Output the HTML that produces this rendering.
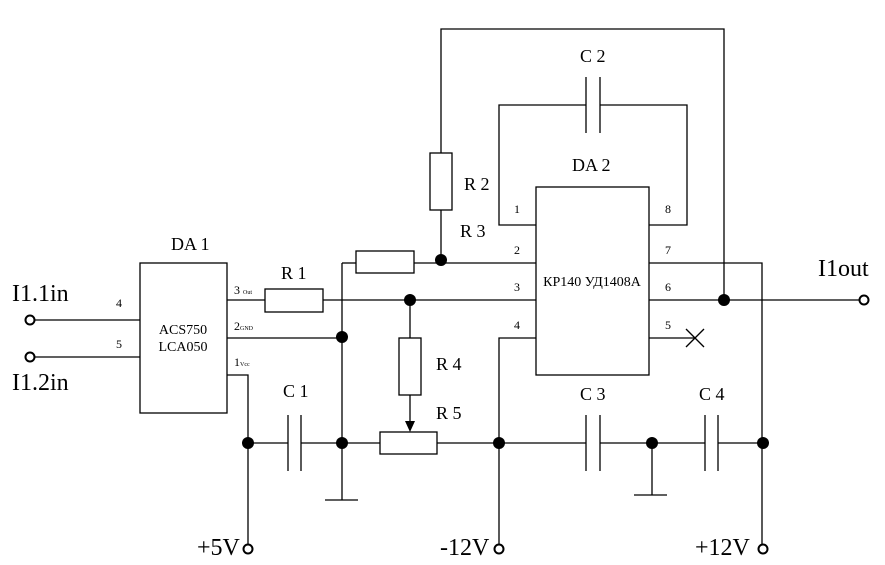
<!DOCTYPE html>
<html><head><meta charset="utf-8"><style>
html,body{margin:0;padding:0;background:#fff;}
svg{display:block;}
text{font-family:"Liberation Serif","Noto Serif CJK SC",serif;fill:#000;}
</style></head><body>
<svg width="885" height="565" viewBox="0 0 885 565" xmlns="http://www.w3.org/2000/svg">
<g stroke="#000" stroke-width="1.3" fill="none">
<line x1="34" y1="320" x2="140" y2="320"/>
<line x1="34" y1="357" x2="140" y2="357"/>
<circle cx="30" cy="320" r="4.5" stroke-width="2" fill="#fff"/>
<circle cx="30" cy="357" r="4.5" stroke-width="2" fill="#fff"/>
<rect x="140" y="263" width="87" height="150"/>
<line x1="227" y1="300" x2="265" y2="300"/>
<rect x="265" y="289" width="58" height="23"/>
<line x1="323" y1="300" x2="536" y2="300"/>
<line x1="227" y1="338" x2="342" y2="338"/>
<polyline points="227,375 248,375 248,545"/>
<line x1="342" y1="263" x2="342" y2="500"/>
<line x1="325" y1="500" x2="358" y2="500"/>
<line x1="342" y1="263" x2="356" y2="263"/>
<rect x="356" y="251" width="58" height="22"/>
<line x1="414" y1="263" x2="536" y2="263"/>
<rect x="430" y="153" width="22" height="57"/>
<line x1="441" y1="210" x2="441" y2="260"/>
<polyline points="441,153 441,29 724,29 724,300"/>
<polyline points="536,225 499,225 499,105 586,105"/>
<polyline points="649,225 687,225 687,105 600,105"/>
<line x1="586" y1="77" x2="586" y2="133"/>
<line x1="600" y1="77" x2="600" y2="133"/>
<rect x="536" y="187" width="113" height="188"/>
<polyline points="536,338 499,338 499,545"/>
<polyline points="649,263 762,263 762,545"/>
<line x1="649" y1="300" x2="860" y2="300"/>
<line x1="649" y1="338" x2="695" y2="338"/>
<line x1="686" y1="329" x2="704" y2="347"/>
<line x1="686" y1="347" x2="704" y2="329"/>
<circle cx="864" cy="300" r="4.5" stroke-width="2" fill="#fff"/>
<line x1="410" y1="300" x2="410" y2="338"/>
<rect x="399" y="338" width="22" height="57"/>
<line x1="410" y1="395" x2="410" y2="422"/>
<line x1="248" y1="443" x2="288" y2="443"/>
<line x1="288" y1="415" x2="288" y2="471"/>
<line x1="301" y1="415" x2="301" y2="471"/>
<line x1="301" y1="443" x2="380" y2="443"/>
<rect x="380" y="432" width="57" height="22"/>
<line x1="437" y1="443" x2="586" y2="443"/>
<line x1="586" y1="415" x2="586" y2="471"/>
<line x1="600" y1="415" x2="600" y2="471"/>
<line x1="600" y1="443" x2="705" y2="443"/>
<line x1="705" y1="415" x2="705" y2="471"/>
<line x1="718" y1="415" x2="718" y2="471"/>
<line x1="718" y1="443" x2="762" y2="443"/>
<line x1="652" y1="443" x2="652" y2="495"/>
<line x1="634" y1="495" x2="667" y2="495"/>
<circle cx="248" cy="549" r="4.5" stroke-width="2" fill="#fff"/>
<circle cx="499" cy="549" r="4.5" stroke-width="2" fill="#fff"/>
<circle cx="763" cy="549" r="4.5" stroke-width="2" fill="#fff"/>
</g>
<polygon points="405,421 415,421 410,432" fill="#000"/>
<g fill="#000">
<circle cx="410" cy="300" r="6"/>
<circle cx="342" cy="337" r="6"/>
<circle cx="441" cy="260" r="6"/>
<circle cx="724" cy="300" r="6"/>
<circle cx="248" cy="443" r="6"/>
<circle cx="342" cy="443" r="6"/>
<circle cx="499" cy="443" r="6"/>
<circle cx="652" cy="443" r="6"/>
<circle cx="763" cy="443" r="6"/>
</g>
<g font-size="18">
<text x="171" y="250">DA 1</text>
<text x="281" y="279">R 1</text>
<text x="283" y="397">C 1</text>
<text x="436" y="370">R 4</text>
<text x="436" y="419">R 5</text>
<text x="464" y="190">R 2</text>
<text x="460" y="237">R 3</text>
<text x="580" y="62">C 2</text>
<text x="572" y="171">DA 2</text>
<text x="580" y="400">C 3</text>
<text x="699" y="400">C 4</text>
</g>
<g font-size="24">
<text x="12" y="301">I1.1in</text>
<text x="12" y="390">I1.2in</text>
<text x="818" y="276">I1out</text>
<text x="197" y="555">+5V</text>
<text x="440" y="555">-12V</text>
<text x="695" y="555">+12V</text>
</g>
<g font-size="12">
<text x="116" y="307">4</text>
<text x="116" y="348">5</text>
<text x="514" y="213">1</text>
<text x="514" y="254">2</text>
<text x="514" y="291">3</text>
<text x="514" y="329">4</text>
<text x="665" y="213">8</text>
<text x="665" y="254">7</text>
<text x="665" y="291">6</text>
<text x="665" y="329">5</text>
<text x="234" y="294">3 <tspan font-size="6">Out</tspan></text>
<text x="234" y="330">2<tspan font-size="6">GND</tspan></text>
<text x="234" y="366">1<tspan font-size="6">Vcc</tspan></text>
</g>
<g font-size="14">
<text x="183" y="334" text-anchor="middle">ACS750</text>
<text x="183" y="351" text-anchor="middle">LCA050</text>
<text x="592" y="286" text-anchor="middle">КР140 УД1408А</text>
</g>
</svg>
</body></html>
